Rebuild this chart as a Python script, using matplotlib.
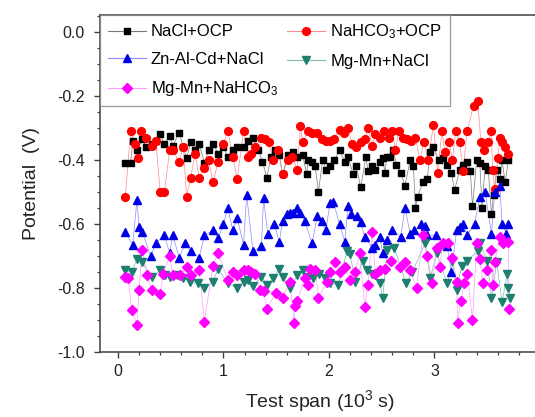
import matplotlib
matplotlib.use("Agg")
import matplotlib.pyplot as plt
from matplotlib.ticker import MultipleLocator, FixedLocator

plt.rcParams['font.family'] = ['Liberation Sans', 'DejaVu Sans']
plt.rcParams['mathtext.default'] = 'regular'

# Test span in 10^3 s, potential in V
nacl_ocp_t = [0.07, 0.12, 0.14, 0.18, 0.23, 0.27, 0.32, 0.36, 0.40, 0.44, 0.49, 0.52, 0.58, 0.62,
              0.65, 0.69, 0.73, 0.77, 0.82, 0.86, 0.90, 0.95, 1.00, 1.04, 1.09, 1.13, 1.19, 1.23,
              1.28, 1.33, 1.37, 1.41, 1.45, 1.49, 1.53, 1.56, 1.61, 1.66, 1.70, 1.75, 1.79, 1.80,
              1.84, 1.87, 1.90, 1.94, 1.97, 2.01, 2.05, 2.10, 2.15, 2.18, 2.23, 2.26, 2.30, 2.35,
              2.37, 2.41, 2.44, 2.48, 2.51, 2.53, 2.55, 2.58, 2.61, 2.64, 2.68, 2.72, 2.77, 2.80,
              2.82, 2.84, 2.89, 2.93, 2.96, 2.99, 3.04, 3.08, 3.12, 3.16, 3.19, 3.24, 3.27, 3.31,
              3.34, 3.36, 3.40, 3.43, 3.45, 3.48, 3.51, 3.54, 3.56, 3.59, 3.62, 3.64, 3.67, 3.70]
nacl_ocp_v = [-0.41, -0.41, -0.34, -0.37, -0.335, -0.36, -0.35, -0.34, -0.32, -0.35, -0.325, -0.355,
              -0.315, -0.36, -0.395, -0.345, -0.37, -0.35, -0.41, -0.37, -0.35, -0.38, -0.36, -0.39,
              -0.37, -0.36, -0.36, -0.34, -0.33, -0.37, -0.405, -0.455, -0.39, -0.37, -0.385, -0.445,
              -0.385, -0.375, -0.39, -0.385, -0.445, -0.40, -0.405, -0.42, -0.50, -0.40, -0.43, -0.42,
              -0.40, -0.37, -0.405, -0.39, -0.445, -0.42, -0.485, -0.39, -0.435, -0.42, -0.43, -0.405,
              -0.395, -0.44, -0.39, -0.39, -0.37, -0.415, -0.44, -0.48, -0.40, -0.42, -0.55, -0.515,
              -0.47, -0.46, -0.375, -0.36, -0.40, -0.395, -0.415, -0.44, -0.495, -0.43, -0.415, -0.405,
              -0.435, -0.545, -0.40, -0.41, -0.55, -0.42, -0.43, -0.57, -0.51, -0.43, -0.46, -0.40,
              -0.47, -0.40]

nahco3_ocp_t = [0.07, 0.12, 0.16, 0.19, 0.22, 0.27, 0.32, 0.36, 0.40, 0.44, 0.49, 0.52, 0.58, 0.62,
                0.65, 0.69, 0.73, 0.77, 0.82, 0.86, 0.90, 0.95, 1.00, 1.04, 1.09, 1.13, 1.19, 1.23,
                1.26, 1.30, 1.36, 1.39, 1.43, 1.47, 1.52, 1.56, 1.61, 1.65, 1.70, 1.73, 1.75, 1.80,
                1.84, 1.89, 1.93, 1.97, 2.01, 2.05, 2.10, 2.14, 2.18, 2.22, 2.26, 2.30, 2.34, 2.37,
                2.41, 2.44, 2.48, 2.52, 2.57, 2.60, 2.63, 2.66, 2.70, 2.74, 2.78, 2.82, 2.86, 2.90,
                2.94, 2.99, 3.03, 3.07, 3.10, 3.14, 3.17, 3.20, 3.24, 3.27, 3.31, 3.37, 3.41, 3.44,
                3.47, 3.51, 3.54, 3.55, 3.57, 3.60, 3.62, 3.64, 3.67, 3.70]
nahco3_ocp_v = [-0.515, -0.31, -0.35, -0.395, -0.31, -0.33, -0.355, -0.34, -0.50, -0.50, -0.37, -0.37,
                -0.405, -0.36, -0.515, -0.455, -0.38, -0.455, -0.425, -0.40, -0.47, -0.405, -0.35,
                -0.31, -0.39, -0.46, -0.31, -0.39, -0.38, -0.36, -0.33, -0.335, -0.345, -0.40, -0.37,
                -0.445, -0.40, -0.39, -0.43, -0.295, -0.345, -0.31, -0.315, -0.315, -0.335, -0.34,
                -0.34, -0.335, -0.305, -0.315, -0.30, -0.35, -0.36, -0.345, -0.335, -0.30, -0.355,
                -0.32, -0.33, -0.31, -0.33, -0.31, -0.37, -0.31, -0.33, -0.335, -0.34, -0.33, -0.40,
                -0.345, -0.40, -0.29, -0.44, -0.31, -0.375, -0.345, -0.40, -0.31, -0.345, -0.435,
                -0.31, -0.23, -0.215, -0.345, -0.37, -0.345, -0.31, -0.43, -0.49, -0.395, -0.33,
                -0.345, -0.36, -0.38]

znalcd_nacl_t = [0.07, 0.14, 0.18, 0.20, 0.23, 0.31, 0.36, 0.44, 0.49, 0.52, 0.58, 0.64, 0.69, 0.77,
                 0.82, 0.90, 0.95, 1.00, 1.04, 1.09, 1.13, 1.19, 1.22, 1.28, 1.36, 1.38, 1.42, 1.48,
                 1.53, 1.56, 1.60, 1.63, 1.66, 1.70, 1.73, 1.77, 1.84, 1.89, 1.93, 1.97, 2.01, 2.04,
                 2.10, 2.15, 2.18, 2.21, 2.27, 2.30, 2.34, 2.41, 2.44, 2.48, 2.51, 2.55, 2.60, 2.68,
                 2.72, 2.77, 2.81, 2.87, 2.91, 2.93, 3.01, 3.12, 3.16, 3.21, 3.24, 3.27, 3.31, 3.38,
                 3.43, 3.48, 3.54, 3.57, 3.62, 3.64, 3.68, 3.70]
znalcd_nacl_v = [-0.625, -0.665, -0.525, -0.61, -0.625, -0.70, -0.66, -0.635, -0.69, -0.635, -0.705,
                 -0.66, -0.685, -0.705, -0.635, -0.62, -0.645, -0.60, -0.55, -0.62, -0.58, -0.665,
                 -0.51, -0.685, -0.67, -0.52, -0.63, -0.60, -0.655, -0.59, -0.57, -0.565, -0.565,
                 -0.55, -0.565, -0.59, -0.66, -0.575, -0.59, -0.62, -0.535, -0.53, -0.60, -0.655,
                 -0.545, -0.57, -0.575, -0.595, -0.64, -0.675, -0.665, -0.64, -0.69, -0.65, -0.62,
                 -0.64, -0.55, -0.63, -0.62, -0.60, -0.605, -0.635, -0.635, -0.67, -0.75, -0.62,
                 -0.61, -0.60, -0.635, -0.60, -0.515, -0.50, -0.63, -0.50, -0.48, -0.60, -0.63, -0.60]

mgmn_nacl_t = [0.07, 0.13, 0.18, 0.23, 0.32, 0.40, 0.45, 0.49, 0.56, 0.62, 0.68, 0.76, 0.82, 0.90,
               0.95, 1.04, 1.13, 1.19, 1.23, 1.28, 1.36, 1.41, 1.47, 1.53, 1.56, 1.63, 1.70, 1.75,
               1.79, 1.85, 1.91, 1.96, 2.01, 2.09, 2.17, 2.20, 2.25, 2.32, 2.36, 2.41, 2.48, 2.51,
               2.55, 2.62, 2.73, 2.79, 2.91, 2.96, 3.02, 3.12, 3.17, 3.21, 3.26, 3.31, 3.41, 3.43,
               3.50, 3.54, 3.59, 3.64, 3.69, 3.70, 3.72]
mgmn_nacl_v = [-0.745, -0.75, -0.71, -0.72, -0.765, -0.745, -0.76, -0.765, -0.76, -0.77, -0.78,
               -0.785, -0.80, -0.78, -0.74, -0.785, -0.80, -0.78, -0.775, -0.795, -0.765, -0.79,
               -0.77, -0.74, -0.765, -0.80, -0.76, -0.745, -0.765, -0.77, -0.755, -0.77, -0.785,
               -0.79, -0.685, -0.695, -0.78, -0.715, -0.745, -0.755, -0.785, -0.83, -0.68, -0.675,
               -0.785, -0.75, -0.66, -0.77, -0.69, -0.785, -0.715, -0.805, -0.73, -0.715, -0.685,
               -0.66, -0.715, -0.83, -0.72, -0.845, -0.755, -0.80, -0.83]

mgmn_nahco3_t = [0.07, 0.10, 0.13, 0.18, 0.20, 0.23, 0.28, 0.32, 0.40, 0.43, 0.49, 0.52, 0.59, 0.65,
                 0.69, 0.77, 0.82, 0.90, 0.95, 1.04, 1.09, 1.13, 1.19, 1.23, 1.26, 1.30, 1.35, 1.38,
                 1.41, 1.50, 1.56, 1.63, 1.67, 1.68, 1.70, 1.77, 1.80, 1.82, 1.87, 1.90, 1.98, 2.01,
                 2.06, 2.10, 2.15, 2.20, 2.25, 2.29, 2.34, 2.37, 2.41, 2.44, 2.48, 2.53, 2.59, 2.67,
                 2.72, 2.77, 2.83, 2.89, 2.93, 2.98, 3.02, 3.05, 3.08, 3.13, 3.17, 3.21, 3.22, 3.25,
                 3.28, 3.31, 3.36, 3.40, 3.43, 3.46, 3.50, 3.54, 3.55, 3.57, 3.62, 3.65, 3.70, 3.71]
mgmn_nahco3_v = [-0.765, -0.77, -0.87, -0.915, -0.805, -0.68, -0.76, -0.805, -0.82, -0.755, -0.70,
                 -0.76, -0.76, -0.735, -0.76, -0.745, -0.905, -0.73, -0.69, -0.775, -0.75, -0.76,
                 -0.745, -0.745, -0.75, -0.755, -0.805, -0.81, -0.865, -0.815, -0.83, -0.78, -0.91,
                 -0.855, -0.84, -0.77, -0.79, -0.74, -0.745, -0.83, -0.78, -0.75, -0.72, -0.75,
                 -0.735, -0.775, -0.75, -0.69, -0.86, -0.79, -0.625, -0.755, -0.745, -0.74, -0.715,
                 -0.735, -0.72, -0.745, -0.80, -0.635, -0.70, -0.785, -0.675, -0.735, -0.66, -0.66,
                 -0.705, -0.78, -0.91, -0.84, -0.785, -0.755, -0.90, -0.66, -0.71, -0.785, -0.745,
                 -0.68, -0.79, -0.72, -0.64, -0.66, -0.655, -0.865]

x_ticks = [0, 1, 2, 3]

series = [
    (nacl_ocp_t, nacl_ocp_v, 'NaCl+OCP', 's', '#000000', '#7a7a7a', 5.0),
    (nahco3_ocp_t, nahco3_ocp_v, 'NaHCO$_3$+OCP', 'o', '#ff0000', '#ff8a8a', 5.6),
    (znalcd_nacl_t, znalcd_nacl_v, 'Zn-Al-Cd+NaCl', '^', '#0000e6', '#8c8cff', 6.0),
    (mgmn_nacl_t, mgmn_nacl_v, 'Mg-Mn+NaCl', 'v', '#1c7f70', '#7fbdb2', 6.0),
    (mgmn_nahco3_t, mgmn_nahco3_v, 'Mg-Mn+NaHCO$_3$', 'D', '#ff00ff', '#ff9cff', 4.6),
]

fig = plt.figure(figsize=(5.35, 4.17), dpi=100)
ax = fig.add_axes([100 / 535, 1 - 352 / 417, 440 / 535, 337 / 417])

handles = []
for t, v, label, mk, col, lcol, ms in series:
    ax.plot(t, v, color=lcol, lw=0.5, zorder=2)
    ax.plot(t, v, ls='none', marker=mk, ms=ms, mfc=col, mec=col, zorder=3)
    h, = ax.plot([], [], color=lcol, lw=0.8, marker=mk, ms=ms, mfc=col, mec=col, label=label)
    handles.append(h)

ax.set_xlim(-0.17, 4.0)
ax.set_ylim(-1.0, 0.053)
ax.xaxis.set_major_locator(FixedLocator(x_ticks))
ax.xaxis.set_minor_locator(MultipleLocator(0.2))
ax.yaxis.set_major_locator(MultipleLocator(0.2))
ax.yaxis.set_minor_locator(MultipleLocator(0.05))
ax.yaxis.set_major_formatter(plt.FuncFormatter(lambda v, p: f"{v:.1f}"))

for s in ax.spines.values():
    s.set_color('#404040')
    s.set_linewidth(1.1)
ax.tick_params(which='major', direction='out', length=4, width=1.0, color='#404040',
               labelsize=11.5, labelcolor='#222222')
ax.tick_params(axis='y', which='major', pad=7)
ax.tick_params(axis='x', which='major', pad=5)
ax.tick_params(which='minor', direction='out', length=2.2, width=0.9, color='#404040')

ax.set_xlabel('Test span (10$^3$ s)', fontsize=14, color='#222222', labelpad=6)
ax.set_ylabel('Potential  (V)', fontsize=14, color='#222222', labelpad=12)

# legend filled row by row: two entries per row
order = [0, 2, 4, 1, 3]
leg = ax.legend([handles[i] for i in order], [handles[i].get_label() for i in order],
                loc='upper left', ncol=2, fontsize=12,
                frameon=True, fancybox=False, borderaxespad=0, handlelength=2.3,
                handletextpad=0.3, columnspacing=0.5, labelspacing=0.75,
                borderpad=0.45)
leg.get_frame().set_edgecolor('#808080')
leg.get_frame().set_linewidth(0.9)

fig.savefig('out.png', dpi=100)
